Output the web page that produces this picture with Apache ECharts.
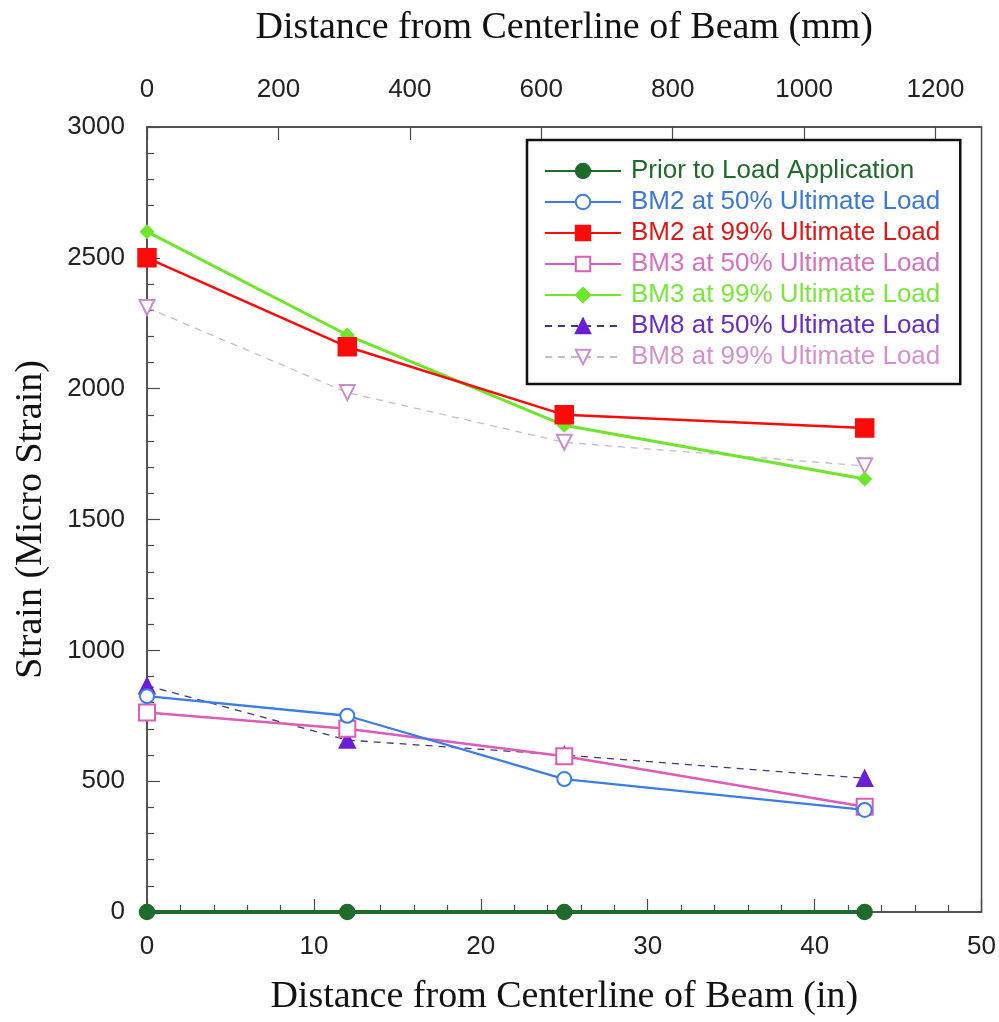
<!DOCTYPE html>
<html>
<head>
<meta charset="utf-8">
<script src="https://cdn.jsdelivr.net/npm/echarts@6/dist/echarts.min.js"></script>
<style>html,body{margin:0;padding:0;background:#fff}#c{width:999px;height:1022px}</style>
</head>
<body>
<div id="c"></div>
<script>
// Data (x in inches)
const xInches = [0, 12, 25, 43];
const priorLoad = [0, 0, 0, 0];
const bm2At50 = [825, 750, 508, 390];
const bm2At99 = [2500, 2160, 1900, 1850];
const bm3At50 = [762, 700, 595, 402];
const bm3At99 = [2600, 2205, 1860, 1655];
const bm8At50 = [865, 657, 600, 511];
const bm8At99 = [2310, 1985, 1795, 1705];
const seriesNames = [
  'Prior to Load Application',
  'BM2 at 50% Ultimate Load',
  'BM2 at 99% Ultimate Load',
  'BM3 at 50% Ultimate Load',
  'BM3 at 99% Ultimate Load',
  'BM8 at 50% Ultimate Load',
  'BM8 at 99% Ultimate Load'
];
const bottomTitle = 'Distance from Centerline of Beam (in)';
const topTitle = 'Distance from Centerline of Beam (mm)';
const leftTitle = 'Strain (Micro Strain)';

const pairs = (ys) => xInches.map((x, i) => [x, ys[i]]);

const axisColor = '#4a4a4a';
const plain = (v) => String(v);
const labelFont = {fontFamily: 'Liberation Sans', fontSize: 26, color: '#222', formatter: plain};
const nameFont = {fontFamily: 'Liberation Serif', fontSize: 38, color: '#111'};

const styles = [
  {data: priorLoad, color: '#1f6b2c', text: '#1f6b2c', symbol: 'circle', size: 15, width: 4, dash: 'solid'},
  {data: bm2At50, color: '#3b7de6', text: '#3b78d8', symbol: 'emptyCircle', size: 14, width: 2.3, dash: 'solid'},
  {data: bm2At99, color: '#ff0a0a', text: '#e01818', symbol: 'rect', size: 18, width: 2.5, dash: 'solid'},
  {data: bm3At50, color: '#dd5cb8', text: '#d670c0', symbol: 'emptyRect', size: 16, width: 2.5, dash: 'solid'},
  {data: bm3At99, color: '#6ee62a', text: '#78e83a', symbol: 'diamond', size: 13, width: 3, dash: 'solid'},
  {data: bm8At50, color: '#6a1fd6', line: '#3f3a7a', text: '#6a2cc8', symbol: 'triangle', size: 16, width: 1.3, dash: [7, 6]},
  {data: bm8At99, color: '#c88ed0', line: '#cdb5d6', text: '#d690d0', symbol: 'emptyTriangle', rotate: 180, size: 15, width: 1.3, dash: [7, 6]}
];

const series = styles.map((s, i) => ({
  name: seriesNames[i],
  type: 'line',
  xAxisIndex: 0,
  yAxisIndex: 0,
  data: pairs(s.data),
  symbol: s.symbol,
  symbolSize: s.size,
  symbolRotate: s.rotate || 0,
  showAllSymbol: true,
  lineStyle: {color: s.line || s.color, width: s.width, type: s.dash},
  itemStyle: {color: s.color, borderColor: s.color, borderWidth: 1.5},
  emphasis: {disabled: true},
  z: 10 - i,
  animation: false
}));

const chart = echarts.init(document.getElementById('c'), null, {renderer: 'canvas'});
chart.setOption({
  backgroundColor: '#fff',
  animation: false,
  grid: {left: 147, right: 17, top: 127, bottom: 110, show: true, borderColor: axisColor, borderWidth: 1.5, backgroundColor: 'transparent'},
  legend: {
    orient: 'vertical',
    left: 527,
    top: 140,
    padding: [18, 20, 14, 17],
    itemWidth: 76,
    itemHeight: 18,
    itemGap: 5,
    borderColor: '#111',
    borderWidth: 2.5,
    backgroundColor: '#fff',
    selectedMode: false,
    textStyle: {fontFamily: 'Liberation Sans', fontSize: 26, lineHeight: 26, padding: [0, 0, 0, 5]},
    data: seriesNames.map((n, i) => ({name: n, textStyle: {color: styles[i].text}}))
  },
  xAxis: [
    {
      type: 'value', position: 'bottom', min: 0, max: 50, interval: 10,
      name: bottomTitle, nameLocation: 'middle', nameGap: 66, nameTextStyle: nameFont,
      axisLine: {lineStyle: {color: axisColor, width: 1.5}},
      axisTick: {inside: true, length: 13, lineStyle: {color: axisColor, width: 1.2}},
      minorTick: {show: true, splitNumber: 5, length: 7, lineStyle: {color: axisColor, width: 1.2}},
      axisLabel: Object.assign({margin: 22}, labelFont),
      splitLine: {show: false}
    },
    {
      type: 'value', position: 'top', min: 0, max: 1270, interval: 200,
      name: topTitle, nameLocation: 'middle', nameGap: 80, nameTextStyle: nameFont,
      axisLine: {lineStyle: {color: axisColor, width: 1.5}},
      axisTick: {inside: true, length: 13, lineStyle: {color: axisColor, width: 1.2}},
      axisLabel: Object.assign({margin: 24, showMaxLabel: false}, labelFont),
      splitLine: {show: false}
    }
  ],
  yAxis: [
    {
      type: 'value', min: 0, max: 3000, interval: 500,
      name: leftTitle, nameLocation: 'middle', nameGap: 97, nameTextStyle: nameFont,
      axisLine: {lineStyle: {color: axisColor, width: 1.5}},
      axisTick: {inside: true, length: 13, lineStyle: {color: axisColor, width: 1.2}},
      minorTick: {show: true, splitNumber: 5, length: 7, lineStyle: {color: axisColor, width: 1.2}},
      axisLabel: Object.assign({margin: 22}, labelFont),
      splitLine: {show: false}
    }
  ],
  series: series
});
</script>
</body>
</html>
